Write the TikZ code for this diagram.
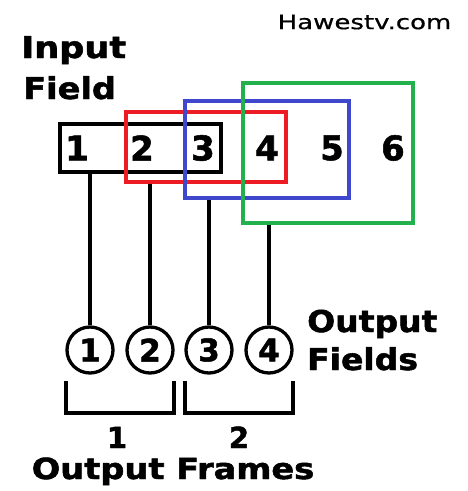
\documentclass[tikz,border=0pt]{standalone}
\usepackage{fontspec}
\setmainfont{DejaVu Sans}
\newfontfamily\heavy[FakeBold=1.6]{DejaVu Sans Bold}
\newfontfamily\medium[FakeBold=0.6]{DejaVu Sans}
\definecolor{pred}{RGB}{237,28,36}
\definecolor{pblue}{RGB}{63,72,204}
\definecolor{pgreen}{RGB}{34,177,76}
\begin{document}
\begin{tikzpicture}[x=1pt,y=-1pt,
  fbox/.style={draw,line width=3.2pt,inner sep=0pt,fill=none},
  dig/.style={font=\fontsize{34}{34}\heavy,inner sep=0pt},
  ofield/.style={circle,draw,line width=3.3pt,minimum size=46pt,inner sep=0pt,font=\fontsize{31}{31}\heavy},
  lbl/.style={font=\fontsize{30}{30}\heavy,inner sep=0pt,anchor=base west},
  frm/.style={font=\fontsize{29}{29}\heavy,inner sep=0pt,anchor=base},
  conn/.style={line width=3.3pt},
  brk/.style={line width=3.3pt}]
\useasboundingbox (0,0) rectangle (468,491);
% boxes
\node[fbox,black,minimum width=161pt,minimum height=48pt] (bk) at (140.5,148) {};
\node[fbox,pred,minimum width=160pt,minimum height=70pt] (rd) at (206,147) {};
\node[fbox,pblue,minimum width=164pt,minimum height=97pt] (bl) at (267,149.5) {};
\node[fbox,pgreen,minimum width=170pt,minimum height=140pt] (gr) at (328,153) {};
% digits
\node[dig] (d1) at (77,148) {1};
\node[dig] (d2) at (142,148) {2};
\node[dig] (d3) at (203,148) {3};
\node[dig] (d4) at (267,148) {4};
\node[dig] (d5) at (332,148) {5};
\node[dig] (d6) at (393,148) {6};
% output fields
\node[ofield] (c1) at (90,350) {1};
\node[ofield] (c2) at (150,350) {2};
\node[ofield] (c3) at (209,350) {3};
\node[ofield] (c4) at (269,350) {4};
% connectors
\draw[conn] (c1.north) -- (c1.north |- bk.south);
\draw[conn] (c2.north) -- (c2.north |- rd.south);
\draw[conn] (c3.north) -- (c3.north |- bl.south);
\draw[conn] (c4.north) -- (c4.north |- gr.south);
% brackets
\draw[brk] (66,381) -- (66,413) -- (174,413) -- (174,381);
\draw[brk] (185,381) -- (185,413) -- (293,413) -- (293,381);
% labels
\node[frm] (f1) at (117,448) {1};
\node[frm] (f2) at (239,448) {2};
\node[frm] (of) at (173,479) {\scalebox{1.16}[1]{Output Frames}};
\node[lbl] (in1) at (21,58) {\scalebox{1.17}[1]{Input}};
\node[lbl] (in2) at (23,99) {\scalebox{1.12}[1]{Field}};
\node[lbl] (o1) at (307,332) {\scalebox{1.1}[1]{Output}};
\node[lbl] (o2) at (307,370) {\scalebox{1.1}[1]{Fields}};
\node[font=\fontsize{20}{20}\medium,inner sep=0pt] (hw) at (364.5,22) {\scalebox{1.3}[1]{Hawestv.com}};
\end{tikzpicture}
\end{document}
